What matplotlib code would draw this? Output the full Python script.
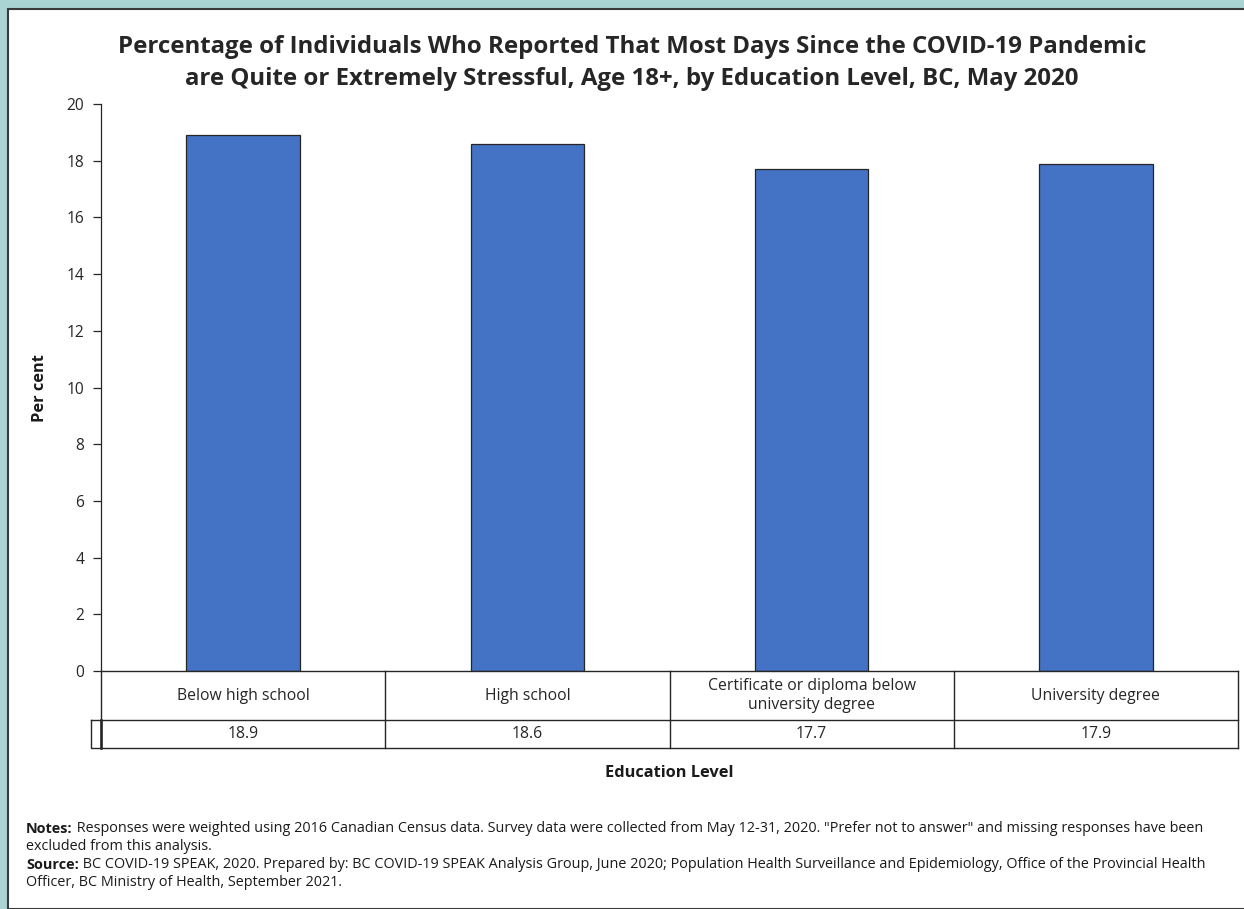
import matplotlib.pyplot as plt
from matplotlib.patches import Rectangle

plt.rcParams['font.family'] = ['Open Sans', 'DejaVu Sans']

# data
categories = ['Below high school', 'High school',
              'Certificate or diploma below\nuniversity degree', 'University degree']
values = [18.9, 18.6, 17.7, 17.9]
value_labels = ['18.9', '18.6', '17.7', '17.9']
yticks = list(range(0, 21, 2))

W, H = 1244, 909
fig = plt.figure(figsize=(W / 100, H / 100), dpi=100, facecolor='#a9d4d3')

# white panel with dark border
panel = Rectangle((8 / W, 0), 1.0, 1 - 9 / H, transform=fig.transFigure,
                  facecolor='white', edgecolor='#3a3a3a', linewidth=1.5, zorder=-5)
fig.patches.append(panel)

ax = fig.add_axes([101 / W, 1 - 671 / H, (1238 - 101) / W, (671 - 104) / H])
ax.set_facecolor('none')
ax.set_zorder(2)

x = range(len(values))
ax.bar(x, values, width=0.40, color='#4472c4', edgecolor='#262626', linewidth=0.9)

ax.set_xlim(-0.5, 3.5)
ax.set_ylim(0, 20)
ax.set_yticks(yticks)
ax.tick_params(axis='y', labelsize=11.2, length=6, width=0.9, colors='#262626', pad=6)
ax.set_xticks([])
for s in ['top', 'right', 'bottom']:
    ax.spines[s].set_visible(False)
ax.spines['left'].set_linewidth(0.9)
ax.spines['left'].set_color('#262626')

# data table under the axis
trans = ax.get_xaxis_transform()
ah = 671 - 104
r1 = -49 / ah
r2 = -77 / ah
lk = dict(color='#262626', linewidth=1.0, clip_on=False, transform=trans)
for yy in [0, r1, r2]:
    ax.plot([-0.5, 3.5], [yy, yy], **lk)
for xx in [-0.5, 0.5, 1.5, 2.5, 3.5]:
    ax.plot([xx, xx], [0, r2], **lk)
# empty legend-key cell at the left of the value row
dx = 10 / ((1238 - 101) / 4)
ax.plot([-0.5 - dx, -0.5, -0.5, -0.5 - dx, -0.5 - dx],
        [r1, r1, r2, r2, r1], **lk)
ax.plot([-0.5, -0.5], [r1, r2], color='#262626', linewidth=1.8,
        clip_on=False, transform=trans)

for i, (c, v) in enumerate(zip(categories, value_labels)):
    ax.text(i, r1 / 2, c, transform=trans, ha='center', va='center',
            fontsize=11.3, color='#262626', linespacing=1.3)
    ax.text(i, (r1 + r2) / 2, v, transform=trans, ha='center', va='center',
            fontsize=11.3, color='#262626')

fig.text(632 / W, 1 - 63 / H,
         'Percentage of Individuals Who Reported That Most Days Since the COVID-19 Pandemic\n'
         'are Quite or Extremely Stressful, Age 18+, by Education Level, BC, May 2020',
         ha='center', va='center', fontsize=17.3, fontweight='bold', color='#262626',
         linespacing=1.42)

fig.text(40 / W, 1 - 388 / H, 'Per cent', rotation=90, ha='center', va='center',
         fontsize=11.8, fontweight='bold', color='#1a1a1a')
fig.text(669 / W, 1 - 773 / H, 'Education Level', ha='center', va='center',
         fontsize=11.8, fontweight='bold', color='#1a1a1a')

# notes and source
note_fs = 10.4
renderer = fig.canvas.get_renderer()
notes = [
    ('Notes:', ' Responses were weighted using 2016 Canadian Census data. Survey data were collected from May 12-31, 2020. "Prefer not to answer" and missing responses have been', 829),
    ('', 'excluded from this analysis.', 847),
    ('Source:', ' BC COVID-19 SPEAK, 2020. Prepared by: BC COVID-19 SPEAK Analysis Group, June 2020; Population Health Surveillance and Epidemiology, Office of the Provincial Health', 865),
    ('', 'Officer, BC Ministry of Health, September 2021.', 883),
]
for head, body, yp in notes:
    xp = 26 / W
    if head:
        th = fig.text(xp, 1 - yp / H, head, ha='left', va='center', fontsize=note_fs,
                      fontweight='bold', color='#1a1a1a')
        bb = th.get_window_extent(renderer=renderer)
        xp = bb.x1 / W
    fig.text(xp, 1 - yp / H, body, ha='left', va='center', fontsize=note_fs, color='#1a1a1a')

fig.savefig('out.png', dpi=100, facecolor=fig.get_facecolor())
